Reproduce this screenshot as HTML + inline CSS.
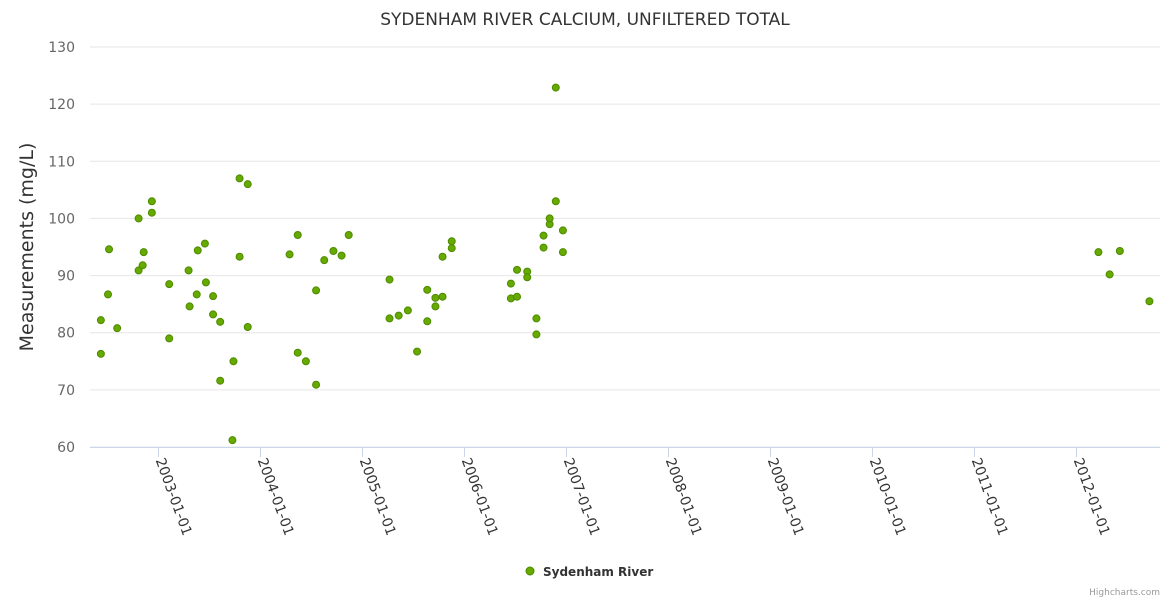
<!DOCTYPE html>
<html><head><meta charset="utf-8"><style>
body{margin:0;background:#fff;font-family:"Liberation Sans","DejaVu Sans",sans-serif;}
svg text{font-family:"DejaVu Sans","Liberation Sans",sans-serif;}
</style></head><body>
<svg id="chart" width="1170" height="600">
<text x="585" y="25" text-anchor="middle" font-size="17" fill="#333">SYDENHAM RIVER CALCIUM, UNFILTERED TOTAL</text>
<text transform="translate(33,247) rotate(-90)" text-anchor="middle" font-size="19" fill="#333">Measurements (mg/L)</text>
<g id="grid"></g><g id="xaxis"></g><g id="pts"></g>
<g>
<circle cx="530" cy="571" r="4" fill="#66aa00" stroke="#4a8a00" stroke-width="1"/>
<text x="543" y="576" font-size="12" font-weight="bold" fill="#333">Sydenham River</text></g>
<text x="1160" y="595" text-anchor="end" font-size="9" fill="#999">Highcharts.com</text>
</svg>
<script>
const yTicks=[60,70,80,90,100,110,120,130];
const xTicks=[2003,2004,2005,2006,2007,2008,2009,2010,2011,2012];
const dates=[2002.43,2002.43,2002.50,2002.51,2002.59,2002.80,2002.80,2002.84,2002.85,2002.93,2002.93,2003.10,2003.10,2003.29,2003.30,2003.37,2003.38,2003.45,2003.46,2003.53,2003.53,2003.60,2003.60,2003.72,2003.73,2003.79,2003.79,2003.87,2003.87,2004.28,2004.36,2004.36,2004.44,2004.54,2004.54,2004.62,2004.71,2004.79,2004.86,2005.26,2005.26,2005.35,2005.44,2005.53,2005.63,2005.63,2005.71,2005.71,2005.78,2005.78,2005.87,2005.87,2006.45,2006.45,2006.51,2006.51,2006.61,2006.61,2006.70,2006.70,2006.77,2006.77,2006.83,2006.83,2006.89,2006.89,2006.96,2006.96,2012.21,2012.32,2012.42,2012.71];
const values=[76.3,82.2,86.7,94.6,80.8,90.9,100,91.8,94.1,101,103,88.5,79,90.9,84.6,86.7,94.4,95.6,88.8,86.4,83.2,81.9,71.6,61.2,75,107,93.3,106,81,93.7,97.1,76.5,75,87.4,70.9,92.7,94.3,93.5,97.1,89.3,82.5,83,83.9,76.7,87.5,82,84.6,86.1,86.3,93.3,96,94.8,88.6,86,86.3,91,90.7,89.7,82.5,79.7,97,94.9,99,100,103,122.9,97.9,94.1,94.1,90.2,94.3,85.5];
const NS='http://www.w3.org/2000/svg';
const yS=v=>447-(v-60)*400/70;
const xS=t=>159+(t-2003)*102;
function mk(p,tag,a){const e=document.createElementNS(NS,tag);for(const k in a)e.setAttribute(k,a[k]);document.getElementById(p).appendChild(e);return e;}
yTicks.forEach(v=>{
 const l=mk('grid','line',{x1:90,x2:1160,y1:yS(v),y2:yS(v),stroke:'#e6e6e6'});
 
 
 const t=mk('grid','text',{x:75,y:yS(v)+5,'text-anchor':'end','font-size':14,fill:'#666'});
 t.textContent=v;
 
 
});
const ax=mk('xaxis','line',{x1:90,x2:1160,y1:447.5,y2:447.5,stroke:'#ccd6eb'});


xTicks.forEach(y=>{
 const x=xS(y)-0.5;
 const tk=mk('xaxis','line',{x1:x,x2:x,y1:447,y2:457,stroke:'#ccd6eb'});
 
 
 const t=mk('xaxis','text',{transform:`translate(${x-3},460) rotate(70)`,'font-size':14,fill:'#333'});
 t.textContent=y+'-01-01';
 
 
});
dates.forEach((d,i)=>{
 const c=mk('pts','circle',{cx:xS(d),cy:yS(values[i]),r:3.5,fill:'#66aa00',stroke:'#4d8a00','stroke-width':1});
 
 
});
</script>
</body></html>
